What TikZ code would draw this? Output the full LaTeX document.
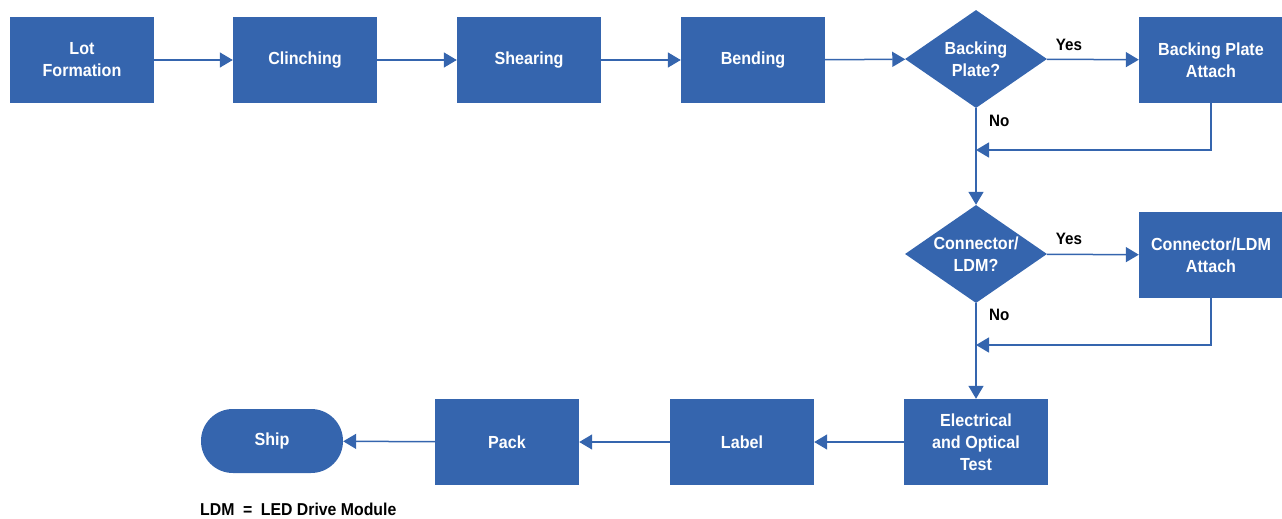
\documentclass[tikz,border=0pt]{standalone}
\usepackage{fontspec}
\setmainfont{Liberation Sans}[FakeStretch=0.92]
\usetikzlibrary{shapes.geometric,arrows.meta}
\definecolor{fblue}{RGB}{53,101,174}
\begin{document}
\begin{tikzpicture}[x=1pt,y=-1pt,
  txt/.style={text=white,align=center,font=\fontsize{17.5}{22}\selectfont\bfseries},
  box/.style={txt,fill=fblue,draw=none,minimum width=144pt,minimum height=86pt,inner sep=0pt},
  dec/.style={diamond,fill=fblue,draw=none,minimum width=142pt,minimum height=98pt,inner sep=0pt},
  term/.style={txt,fill=fblue,draw=none,minimum width=142pt,minimum height=64pt,inner sep=0pt,
    rounded corners=31.9pt},
  lbl/.style={text=black,font=\fontsize{16.5}{20}\selectfont\bfseries,inner sep=0pt},
  conn/.style={draw=fblue,line width=1.5pt,-{Triangle[length=13pt,width=15pt]}}]
\useasboundingbox (0,0) rectangle (1282,519);
\node[box] (lot) at (82,60) {Lot\\Formation};
\node[box] (cli) at (305,60) {Clinching};
\node[box] (she) at (529,60) {Shearing};
\node[box] (ben) at (753,60) {Bending};
\node[dec] (bp) at (976,59) {};
\node[txt] (bpt) at (bp.center) {Backing\\Plate?};
\node[box] (bpa) at (1211,60) {Backing Plate\\Attach};
\node[dec] (cl) at (976,254) {};
\node[txt] (clt) at (cl.center) {Connector/\\LDM?};
\node[box] (cla) at (1211,255) {Connector/LDM\\Attach};
\node[box] (test) at (976,442) {Electrical\\and Optical\\Test};
\node[box] (lab) at (742,442) {Label};
\node[box] (pack) at (507,442) {Pack};
\node[term] (ship) at (272,441) {Ship};

\coordinate (j1) at (976,150);
\coordinate (j2) at (976,345);

\draw[conn] (lot) -- (cli);
\draw[conn] (cli) -- (she);
\draw[conn] (she) -- (ben);
\draw[conn] (ben) -- (bp);
\draw[conn] (bp) -- (bpa);
\draw[conn] (bp.south) -- (cl.north);
\draw[conn] (bpa.south) |- (j1);
\draw[conn] (cl) -- (cla);
\draw[conn] (cl.south) -- (test.north);
\draw[conn] (cla.south) |- (j2);
\draw[conn] (test) -- (lab);
\draw[conn] (lab) -- (pack);
\draw[conn] (pack) -- (ship);

\node[lbl] (yes1) at (1069,45) {Yes};
\node[lbl] (yes2) at (1069,239) {Yes};
\node[lbl,anchor=west] (no1) at (989,121) {No};
\node[lbl,anchor=west] (no2) at (989,315) {No};
\node[lbl,anchor=base west,font=\fontsize{17.2}{20}\selectfont\bfseries] (ldm) at (200,515) {LDM\,\,\,=\,\,\,LED Drive Module};
\end{tikzpicture}
\end{document}
